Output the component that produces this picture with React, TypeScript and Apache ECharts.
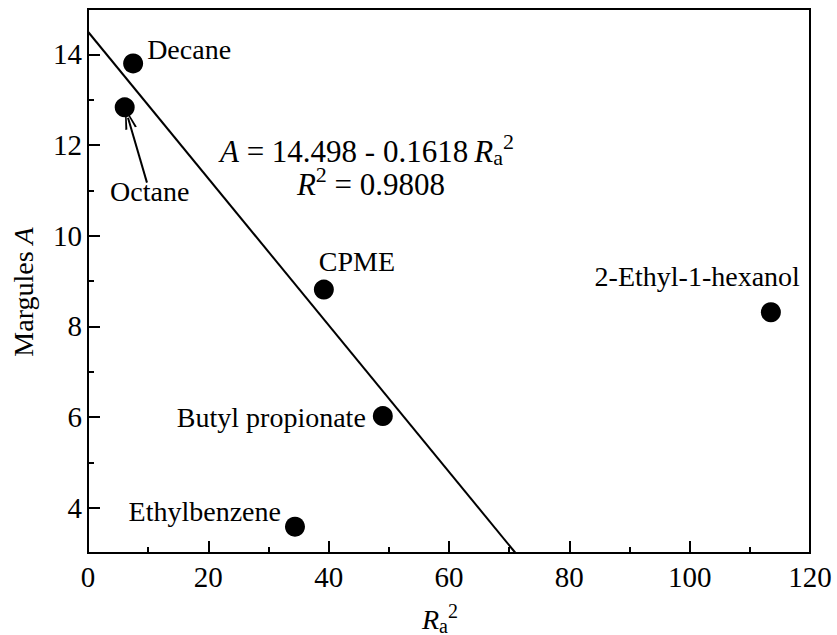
import React, { useEffect, useRef } from "react";
import * as echarts from "echarts";

// Data
const solvents = ["Decane", "Octane", "CPME", "Butyl propionate", "Ethylbenzene", "2-Ethyl-1-hexanol"];
const ra2Values = [7.5, 6.1, 39.2, 49.0, 34.4, 113.5];
const marguleA = [13.8, 12.83, 8.81, 6.02, 3.58, 8.31];

// Regression line end points (A = 14.498 - 0.1618 Ra^2), clipped to the axis range
const fitX = [0, 71.06];
const fitY = [14.498, 3.0];

// Octane arrow (from label to point)
const arrowFrom = [9.8, 11.17];
const arrowTo = [6.65, 12.6];

const xTicks = [0, 20, 40, 60, 80, 100, 120];
const yCats = ["3", "4", "5", "6", "7", "8", "9", "10", "11", "12", "13", "14", "15"];

// Label placement (offsets from the point centre, pixels)
const labelPlacement: Record<string, { align: string; offset: number[] }> = {
  "Decane": { align: "left", offset: [14, -14] },
  "Octane": { align: "center", offset: [25, 84] },
  "CPME": { align: "left", offset: [-5, -28] },
  "Butyl propionate": { align: "right", offset: [-17, 1] },
  "Ethylbenzene": { align: "right", offset: [-14, -15] },
  "2-Ethyl-1-hexanol": { align: "right", offset: [29, -36] },
};

const FONT = "Liberation Serif";

const richStyles = {
  i: { fontStyle: "italic", fontFamily: FONT, fontSize: 28, color: "#000" },
  n: { fontFamily: FONT, fontSize: 28, color: "#000" },
  sub: { fontFamily: FONT, fontSize: 20, lineHeight: 20, padding: [13, 0, 0, 0], color: "#000" },
  sup: { fontFamily: FONT, fontSize: 20, lineHeight: 20, padding: [0, 0, 17, 0], color: "#000" },
};

const eqRich = {
  i: { fontStyle: "italic", fontFamily: FONT, fontSize: 31, color: "#000" },
  n: { fontFamily: FONT, fontSize: 31, color: "#000" },
  sub: { fontFamily: FONT, fontSize: 22, lineHeight: 22, padding: [13, 0, 0, 0], color: "#000" },
  sup: { fontFamily: FONT, fontSize: 22, lineHeight: 22, padding: [0, 0, 19, 0], color: "#000" },
};

export default function App() {
  const ref = useRef<HTMLDivElement>(null);
  useEffect(() => {
    document.body.style.margin = "0";
    if (!ref.current) return;
    const chart = echarts.init(ref.current, null, { renderer: "svg" });
    const points = solvents.map((name, i) => {
      const p = labelPlacement[name];
      return {
        name,
        value: [ra2Values[i], marguleA[i]],
        label: {
          show: true,
          formatter: name,
          position: "inside",
          align: p.align,
          verticalAlign: "middle",
          offset: p.offset,
          fontFamily: FONT,
          fontSize: 28,
          color: "#000",
        },
      };
    });
    const chevron = "path://M10,0 L20,30 L16.5,30 L10,7 L3.5,30 L0,30 Z";
    chart.setOption({
      animation: false,
      backgroundColor: "#fff",
      textStyle: { fontFamily: FONT },
      grid: {
        left: 88,
        right: 27,
        top: 9,
        bottom: 82,
        containLabel: false,
        outerBoundsMode: "none",
        show: true,
        borderColor: "#000",
        borderWidth: 2,
        backgroundColor: "transparent",
      },
      xAxis: {
        type: "value",
        min: xTicks[0],
        max: xTicks[xTicks.length - 1],
        interval: 20,
        name: "{i|R}{sub|a}{sup|2}",
        nameLocation: "middle",
        nameGap: 52,
        nameTextStyle: { rich: richStyles, padding: [0, 18, 0, 0] },
        axisLine: { show: true, lineStyle: { color: "#000", width: 2 } },
        axisTick: { show: true, inside: true, length: 12, lineStyle: { color: "#000", width: 2 } },
        minorTick: { show: true, splitNumber: 2, length: 6, lineStyle: { color: "#000", width: 2 } },
        axisLabel: { fontFamily: FONT, fontSize: 29, color: "#000", margin: 9 },
        splitLine: { show: false },
      },
      yAxis: [
        {
          type: "value",
          min: 3,
          max: 15,
          interval: 1,
          name: "{n|Margules }{i|A}",
          nameLocation: "middle",
          nameGap: 51,
          nameRotate: 90,
          nameTextStyle: { rich: richStyles, padding: [0, 22, 0, 0] },
          axisLine: { show: true, onZero: false, lineStyle: { color: "#000", width: 2 } },
          axisTick: { show: true, inside: true, length: 6, lineStyle: { color: "#000", width: 2 } },
          axisLabel: {
            fontFamily: FONT,
            fontSize: 29,
            color: "#000",
            margin: 6,
            formatter: (v: number) => (v % 2 === 0 ? String(v) : ""),
          },
          splitLine: { show: false },
        },
        {
          type: "category",
          data: yCats,
          boundaryGap: false,
          position: "left",
          axisLine: { show: false },
          axisTick: {
            show: true,
            inside: true,
            length: 12,
            interval: (_i: number, v: string) => Number(v) % 2 === 0,
            lineStyle: { color: "#000", width: 2 },
          },
          axisLabel: { show: false },
          splitLine: { show: false },
        },
      ],
      series: [
        {
          type: "line",
          data: fitX.map((x, i) => [x, fitY[i]]),
          showSymbol: false,
          symbol: "none",
          lineStyle: { color: "#000", width: 2 },
          silent: true,
          z: 2,
        },
        {
          type: "scatter",
          data: points,
          symbol: "circle",
          symbolSize: 20,
          itemStyle: { color: "#000", opacity: 1 },
          z: 3,
          markLine: {
            silent: true,
            symbol: ["none", chevron],
            symbolSize: [12, 22],
            label: { show: false },
            lineStyle: { color: "#000", width: 2, type: "solid", opacity: 1 },
            data: [[{ coord: arrowFrom }, { coord: arrowTo }]],
          },
        },
      ],
      graphic: [
        {
          type: "text",
          x: 367,
          y: 151,
          style: {
            text: "{i|A}{n| = 14.498 - 0.1618\u2009}{i|R}{sub|a}{sup|2}",
            rich: eqRich,
            align: "center",
            verticalAlign: "middle",
          },
        },
        {
          type: "text",
          x: 371,
          y: 184,
          style: {
            text: "{i|R}{sup|2}{n| = 0.9808}",
            rich: eqRich,
            align: "center",
            verticalAlign: "middle",
          },
        },
      ],
    });
    return () => chart.dispose();
  }, []);
  return <div ref={ref} style={{ width: 837, height: 635 }} />;
}
